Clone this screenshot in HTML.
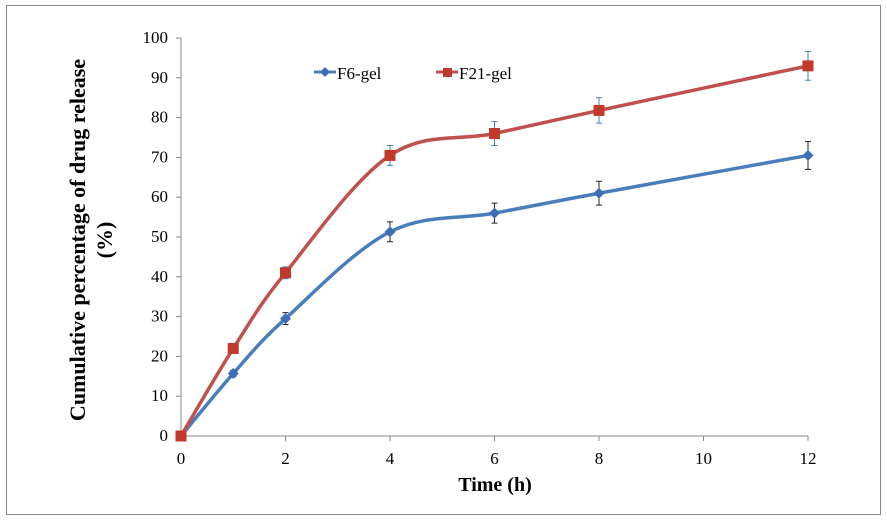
<!DOCTYPE html>
<html><head><meta charset="utf-8"><style>
html,body{margin:0;padding:0;background:#fff;}
svg{display:block;font-family:"Liberation Serif",serif;}
</style></head><body>
<svg id="c" width="887" height="521">
<rect x="6.5" y="5.5" width="874" height="509" fill="#fff" stroke="#888" stroke-width="1"/>
<g id="axes"></g>
<g id="series"></g>
<text x="85" y="240" transform="rotate(-90 85 240)" text-anchor="middle" font-size="22" font-weight="bold">Cumulative percentage of drug release</text>
<text x="112" y="240" transform="rotate(-90 112 240)" text-anchor="middle" font-size="22" font-weight="bold">(%)</text>
<text x="495" y="491" text-anchor="middle" font-size="20" font-weight="bold">Time (h)</text>
<g>
<line x1="314" y1="72" x2="336" y2="72" stroke="#4a7ebb" stroke-width="3"/>
<path d="M325 67 L330 72 L325 77 L320 72Z" fill="#3d6fb6"/>
<text x="337" y="79" font-size="17">F6-gel</text>
<line x1="436" y1="72" x2="458" y2="72" stroke="#c0504d" stroke-width="3"/>
<rect x="443" y="68" width="9" height="9" fill="#c0392b"/>
<text x="459" y="79" font-size="17">F21-gel</text>
</g>
</svg>
<script>
const times=[0,1,2,4,6,8,12];
const f6=[0,15.7,29.5,51.3,56,61,70.5];
const f6err=[0,0.8,1.5,2.5,2.5,3,3.5];
const f21=[0,22,41,70.5,76,81.8,93];
const f21err=[0,0.8,1.5,2.5,3,3.2,3.6];
const xTicks=[0,2,4,6,8,10,12];
const yTicks=[0,10,20,30,40,50,60,70,80,90,100];
const NS="http://www.w3.org/2000/svg";
const X=v=>181+v*(808-181)/12;
const Y=v=>436-v*(436-38)/100;
function mk(tag,attrs,parent){const e=document.createElementNS(NS,tag);for(const k in attrs)e.setAttribute(k,attrs[k]);parent.appendChild(e);return e;}
const ax=document.getElementById('axes');
const ya=mk('line',{x1:181,y1:38,x2:181,y2:436,stroke:'#888'},ax);


const xa=mk('line',{x1:181,y1:436,x2:808,y2:436,stroke:'#888'},ax);


yTicks.forEach(t=>{mk('line',{x1:176,y1:Y(t),x2:181,y2:Y(t),stroke:'#888'},ax);
const tx=mk('text',{x:168,y:Y(t)+5,'text-anchor':'end','font-size':17},ax);tx.textContent=t;

});
xTicks.forEach(t=>{mk('line',{x1:X(t),y1:436,x2:X(t),y2:441,stroke:'#888'},ax);
const tx=mk('text',{x:X(t),y:464,'text-anchor':'middle','font-size':17},ax);tx.textContent=t;

});
function smooth(pts){let d=`M${pts[0][0]},${pts[0][1]}`;
for(let i=0;i<pts.length-1;i++){const p0=pts[i-1]||pts[i],p1=pts[i],p2=pts[i+1],p3=pts[i+2]||p2;const k=0.17;
d+=` C${p1[0]+(p2[0]-p0[0])*k},${p1[1]+(p2[1]-p0[1])*k} ${p2[0]-(p3[0]-p1[0])*k},${p2[1]-(p3[1]-p1[1])*k} ${p2[0]},${p2[1]}`;}return d;}
const sg=document.getElementById('series');
function draw(vals,errs,color,errColor,name,marker){
const g=mk('g',{},sg);


const pts=times.map((t,i)=>[X(t),Y(vals[i])]);
const ln=mk('path',{d:smooth(pts),fill:'none',stroke:color,'stroke-width':3.5},g);


times.forEach((t,i)=>{if(errs[i]>0){const x=X(t),a=Y(vals[i]+errs[i]),b=Y(vals[i]-errs[i]);
mk('path',{d:`M${x},${a}V${b}M${x-3},${a}H${x+3}M${x-3},${b}H${x+3}`,stroke:errColor,'stroke-width':1,fill:'none'},g);}
const x=X(t),y=Y(vals[i]);let m;
if(marker==='d')m=mk('path',{d:`M${x} ${y-5.5}L${x+5.5} ${y}L${x} ${y+5.5}L${x-5.5} ${y}Z`,fill:'#3d6fb6'},g);
else m=mk('rect',{x:x-5.5,y:y-5.5,width:11,height:11,fill:'#c0392b'},g);

});}
draw(f6,f6err,'#4a7ebb','#222','f6','d');
draw(f21,f21err,'#c0504d','#4a7ebb','f21','s');
</script>
</body></html>
